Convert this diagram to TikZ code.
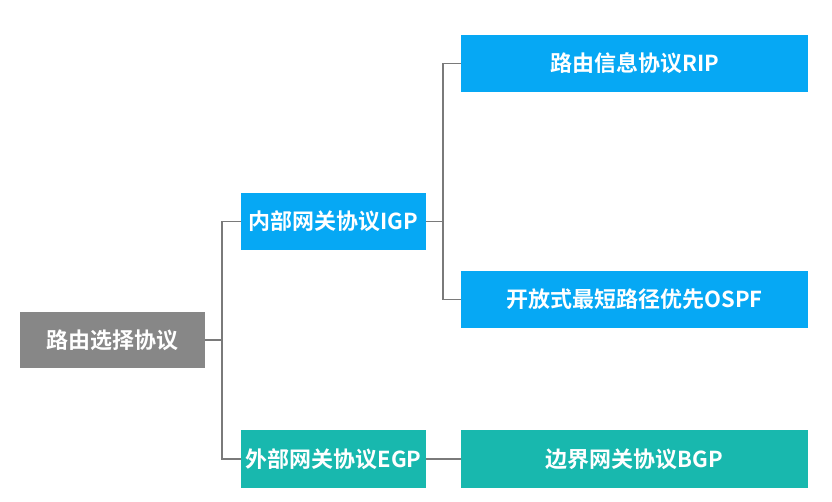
\documentclass[tikz,border=0pt]{standalone}
\usepackage{fontspec}
\setmainfont{Noto Sans CJK SC}[BoldFont={Noto Sans CJK SC Bold}]
\newfontfamily\cjkb{Noto Sans CJK SC Bold}
\definecolor{rootgray}{HTML}{878787}
\definecolor{boxblue}{HTML}{06A8F4}
\definecolor{boxteal}{HTML}{18B8AE}
\definecolor{linegray}{HTML}{7A7A7A}
\tikzset{
  box/.style={draw=none, text=white, inner sep=0pt, font=\cjkb\fontsize{22}{26}\selectfont},
  conn/.style={draw=linegray, line width=1.4pt},
}
\begin{document}
\begin{tikzpicture}[x=1pt,y=-1pt]
\useasboundingbox[fill=white] (0,0) rectangle (832,501);
\node[box, fill=rootgray, minimum width=185pt, minimum height=56pt] (root) at (112.5,340) {路由选择协议};
\node[box, fill=boxblue, minimum width=185pt, minimum height=57pt] (igp) at (333.5,221.5) {内部网关协议IGP};
\node[box, fill=boxteal, minimum width=185pt, minimum height=58pt] (egp) at (333.5,459) {外部网关协议EGP};
\node[box, fill=boxblue, minimum width=347pt, minimum height=57pt] (rip) at (634.5,63.5) {路由信息协议RIP};
\node[box, fill=boxblue, minimum width=347pt, minimum height=57pt] (ospf) at (634.5,299.5) {开放式最短路径优先OSPF};
\node[box, fill=boxteal, minimum width=347pt, minimum height=58pt] (bgp) at (634.5,459) {边界网关协议BGP};
\coordinate (j1) at (222,340);
\coordinate (j2) at (443,221.5);
\draw[conn] (root.east) -- (j1);
\draw[conn] (igp.west) -| (j1) |- (egp.west);
\draw[conn] (igp.east) -- (j2);
\draw[conn] (rip.west) -| (j2) |- (ospf.west);
\draw[conn] (egp.east) -- (bgp.west);
\end{tikzpicture}
\end{document}
